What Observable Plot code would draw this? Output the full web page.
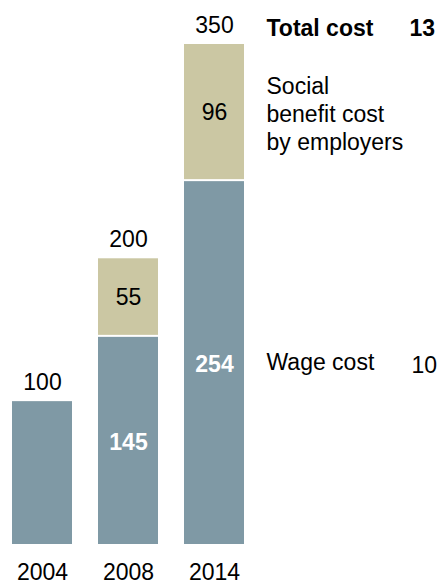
<!DOCTYPE html>
<html>
<head>
<meta charset="utf-8">
<script src="https://cdn.jsdelivr.net/npm/d3@7"></script>
<script src="https://cdn.jsdelivr.net/npm/@observablehq/plot@0.6"></script>
<style>
  html, body { margin: 0; padding: 0; background: #fff; }
  #chart { width: 438px; height: 585px; overflow: hidden; }
</style>
</head>
<body>
<div id="chart"></div>
<script>
const years = ["2004", "2008", "2014"];
const wage = [100, 145, 254];
const social = [0, 55, 96];
const total = [100, 200, 350];
const seriesLabels = ["Total cost", "Social\nbenefit cost\nby employers", "Wage cost"];
const sideValues = ["13", "10"];
const colors = { wage: "#7f99a5", social: "#cbc7a3" };

const rows = years.map((year, i) => ({
  year, wage: wage[i], social: social[i], total: total[i]
}));
const socialRows = rows.filter(d => d.social > 0);
const wageLabelRows = rows.filter(d => d.social > 0);
const last = rows[rows.length - 1];

const font = "'Liberation Sans', Arial, Helvetica, sans-serif";
const fs = 23;

const chart = Plot.plot({
  width: 438,
  height: 585,
  marginLeft: 11,
  marginRight: 193,
  marginTop: 44,
  marginBottom: 41,
  x: { domain: years, paddingInner: 0.3, paddingOuter: 0, axis: null },
  y: { domain: [0, 350], axis: null },
  style: { fontFamily: font, fontSize: fs + "px", background: "white", color: "#000" },
  marks: [
    Plot.barY(rows, { x: "year", y1: 0, y2: "wage", fill: colors.wage }),
    Plot.barY(socialRows, { x: "year", y1: "wage", y2: "total", fill: colors.social, insetBottom: 2 }),
    // totals above bars
    Plot.text(rows, { x: "year", y: "total", text: d => String(d.total), dy: -19, lineAnchor: "middle", fontSize: fs, fill: "#000" }),
    // inner labels
    Plot.text(socialRows, { x: "year", y: d => d.wage + d.social / 2, text: d => String(d.social), lineAnchor: "middle", fontSize: fs, fill: "#000" }),
    Plot.text(wageLabelRows, { x: "year", y: d => d.wage / 2, text: d => String(d.wage), dy: 2, lineAnchor: "middle", fontSize: fs, fontWeight: "bold", fill: "#fff" }),
    // year labels
    Plot.text(years, { x: d => d, frameAnchor: "bottom", dy: 28, lineAnchor: "middle", fontSize: fs, fill: "#000" }),
    // right-hand series labels
    Plot.text([last], { x: "year", y: "total", text: () => seriesLabels[0], textAnchor: "start", dx: 52, dy: -16, lineAnchor: "middle", fontSize: fs, fontWeight: "bold", fill: "#000" }),
    Plot.text([last], { x: "year", y: "total", text: () => sideValues[0], textAnchor: "start", dx: 195, dy: -16, lineAnchor: "middle", fontSize: fs, fontWeight: "bold", fill: "#000" }),
    Plot.text([last], { x: "year", y: d => d.wage + d.social / 2, text: () => seriesLabels[1], textAnchor: "start", dx: 52, lineAnchor: "middle", lineHeight: 1.22, fontSize: fs, fill: "#000" }),
    Plot.text([last], { x: "year", y: d => d.wage / 2, text: () => seriesLabels[2], textAnchor: "start", dx: 52, lineAnchor: "middle", fontSize: fs, fill: "#000" }),
    Plot.text([last], { x: "year", y: d => d.wage / 2, text: () => sideValues[1], textAnchor: "start", dx: 197, dy: 3, lineAnchor: "middle", fontSize: fs, fill: "#000" })
  ]
});
document.getElementById("chart").appendChild(chart);
</script>
</body>
</html>
